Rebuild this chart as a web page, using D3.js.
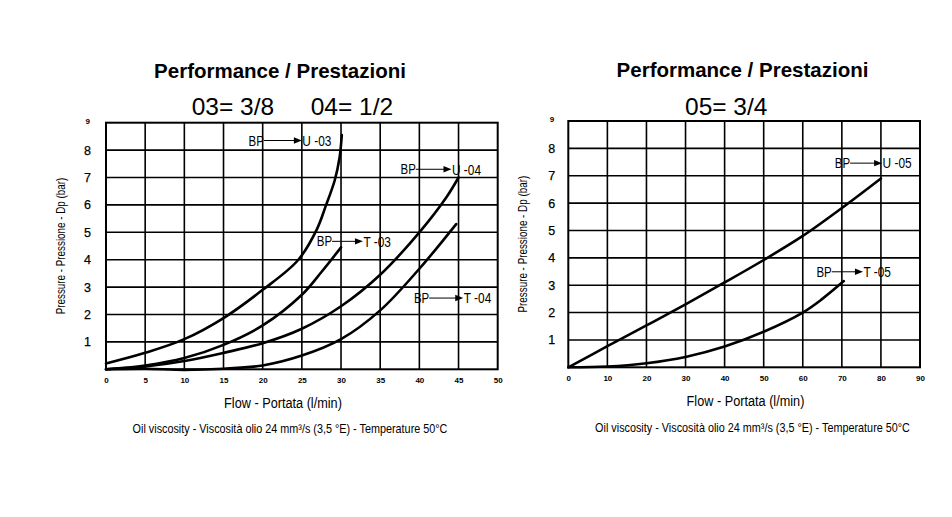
<!DOCTYPE html>
<html>
<head>
<meta charset="utf-8">
<script src="https://cdn.jsdelivr.net/npm/d3@7"></script>
<style>
  body { margin: 0; background: #fff; }
  svg { display: block; }
  text { font-family: "Liberation Sans", Arial, sans-serif; fill: #000; }
</style>
</head>
<body>
<svg id="chart" width="952" height="517"></svg>
<script>
// Tick labels
const flowTicks34 = [0, 5, 10, 15, 20, 25, 30, 35, 40, 45, 50];
const flowTicks05 = [0, 10, 20, 30, 40, 50, 60, 70, 80, 90];
const pressureTicks = [1, 2, 3, 4, 5, 6, 7, 8];
const pressureTop = [9];

// Curves: [flow l/min, pressure bar]
const curveU03 = [[0, 0.21], [5, 0.6], [10, 1.1], [15, 1.87], [20, 2.9], [24.5, 3.98],
                  [26.9, 5.1], [28.1, 6.0], [29.2, 6.9], [29.8, 7.7], [30.1, 8.55]];
const curveT03 = [[0, 0], [5, 0.14], [10, 0.41], [15, 0.89], [20, 1.6], [25, 2.72], [27.5, 3.55], [30, 4.45]];
const curveU04 = [[0, 0], [5, 0.1], [10, 0.3], [15, 0.6], [20, 0.95], [25, 1.48], [30, 2.3],
                  [35, 3.45], [40, 5.0], [43.5, 6.3], [45, 7.0]];
const curveT04 = [[0, 0], [5, 0.02], [10, -0.02], [15, 0.02], [20, 0.14], [25, 0.5], [30, 1.1],
                  [35, 2.15], [40, 3.67], [44.7, 5.3]];
const curveU05 = [[0, 0], [10, 0.77], [20, 1.53], [30, 2.3], [40, 3.1], [50, 3.92], [60, 4.8], [70, 5.82], [80, 6.9]];
const curveT05 = [[0, 0], [10, 0.03], [20, 0.15], [30, 0.38], [40, 0.76], [50, 1.3], [60, 2.0], [65, 2.5], [70.5, 3.15]];

// Labels: [end label, BP start flow, arrow tip flow, pressure]
const notes34 = [["U -03", 18.2, 25, 8.35], ["U -04", 37.6, 44.1, 7.3], ["T -03", 26.9, 32.8, 4.67], ["T -04", 39.3, 45.6, 2.6]];
const notes05 = [["U -05", 68.2, 80.3, 7.46], ["T -05", 63.5, 75.4, 3.49]];

const svg = d3.select("#chart");
const NARROW = 0.82; // Arial Narrow look

function narrow(g, x, y, str, size, anchor, rot) {
  return g.append("text")
    .attr("transform", `translate(${x},${y}) rotate(${rot || 0}) scale(${NARROW},1)`)
    .attr("text-anchor", anchor || "start")
    .style("font-size", size + "px")
    .text(str);
}

const panels = [
  { left: 106, right: 497.7, top: 122.7, bottom: 369.3, xMax: 50, xTicks: flowTicks34,
    curves: [curveU03, curveT03, curveU04, curveT04], notes: notes34,
    titleX: 280, titleY: 78, subs: [["03= 3/8", 191.7], ["04= 1/2", 310.7]],
    yLabelX: 61, yPad: 15, xLabelX: 283, xLabelY: 408, footX: 290, footY: 433 },
  { left: 568.3, right: 920, top: 121, bottom: 367.3, xMax: 90, xTicks: flowTicks05,
    curves: [curveU05, curveT05], notes: notes05,
    titleX: 742.5, titleY: 77, subs: [["05= 3/4", 685]],
    yLabelX: 523, yPad: 13, xLabelX: 745.5, xLabelY: 406, footX: 752.5, footY: 432 }
];

panels.forEach(p => {
  const x = d3.scaleLinear().domain([0, p.xMax]).range([p.left, p.right]);
  const y = d3.scaleLinear().domain([0, 9]).range([p.bottom, p.top]);
  const g = svg.append("g");

  // titles
  g.append("text")
    .attr("x", p.titleX).attr("y", p.titleY)
    .attr("text-anchor", "middle")
    .style("font-size", "20.5px").style("font-weight", "bold")
    .text("Performance / Prestazioni");

  g.selectAll(".sub").data(p.subs).enter().append("text")
    .attr("class", "sub")
    .attr("x", d => d[1]).attr("y", 115)
    .style("font-size", "24.5px")
    .text(d => d[0]);

  // grid
  g.append("g").selectAll("line").data(p.xTicks.slice(1, -1)).enter().append("line")
    .attr("x1", d => x(d)).attr("x2", d => x(d))
    .attr("y1", p.top).attr("y2", p.bottom)
    .attr("stroke", "#000").attr("stroke-width", 1.6);

  g.append("g").selectAll("line").data(pressureTicks).enter().append("line")
    .attr("x1", p.left).attr("x2", p.right)
    .attr("y1", d => y(d)).attr("y2", d => y(d))
    .attr("stroke", "#000").attr("stroke-width", 1.6);

  g.append("rect")
    .attr("x", p.left).attr("y", p.top)
    .attr("width", p.right - p.left).attr("height", p.bottom - p.top)
    .attr("fill", "none").attr("stroke", "#000").attr("stroke-width", 2);

  // axes
  const xAxis = g.append("g")
    .attr("transform", `translate(0,${p.bottom})`)
    .call(d3.axisBottom(x).tickValues(p.xTicks).tickSize(0).tickPadding(8));
  xAxis.select(".domain").remove();
  xAxis.selectAll("text").style("font-size", "8px").style("font-weight", "bold")
    .style("font-family", "'Liberation Sans', Arial, sans-serif");

  const yAxis = g.append("g")
    .attr("transform", `translate(${p.left},0)`)
    .call(d3.axisLeft(y).tickValues(pressureTicks).tickSize(0).tickPadding(p.yPad));
  yAxis.select(".domain").remove();
  yAxis.selectAll("text").style("font-size", "12.5px")
    .style("font-family", "'Liberation Sans', Arial, sans-serif")
    .attr("stroke", "#000").attr("stroke-width", 0.25);

  const yTop = g.append("g")
    .attr("transform", `translate(${p.left},0)`)
    .call(d3.axisLeft(y).tickValues(pressureTop).tickSize(0).tickPadding(p.yPad + 1));
  yTop.select(".domain").remove();
  yTop.selectAll("text").style("font-size", "8px").style("font-weight", "bold")
    .attr("dy", "0.1em")
    .style("font-family", "'Liberation Sans', Arial, sans-serif");

  // axis titles
  narrow(g, p.yLabelX, (p.top + p.bottom) / 2, "Pressure - Pressione - Dp (bar)", 12, "middle", -90)
    .attr("dy", "0.35em");
  narrow(g, p.xLabelX, p.xLabelY, "Flow - Portata (l/min)", 15.5, "middle");
  narrow(g, p.footX, p.footY, "Oil viscosity - Viscosità olio 24 mm³/s (3,5 °E) - Temperature 50°C", 13.2, "middle");

  // curves
  const line = d3.line().x(d => x(d[0])).y(d => y(d[1])).curve(d3.curveCatmullRom.alpha(0.5));
  g.selectAll(".curve").data(p.curves).enter().append("path")
    .attr("class", "curve")
    .attr("d", line)
    .attr("fill", "none").attr("stroke", "#000")
    .attr("stroke-width", 2.6).attr("stroke-linecap", "round");

  // BP -> U/T labels
  p.notes.forEach(n => {
    const ny = y(n[3]);
    const bp = narrow(g, x(n[1]), ny, "BP", 14).attr("dy", "0.36em");
    const bpEnd = x(n[1]) + bp.node().getComputedTextLength() * NARROW;
    const tip = x(n[2]);
    g.append("line")
      .attr("x1", bpEnd).attr("x2", tip - 6)
      .attr("y1", ny).attr("y2", ny)
      .attr("stroke", "#000").attr("stroke-width", 1);
    g.append("path")
      .attr("d", `M${tip},${ny}L${tip - 8},${ny - 3.2}L${tip - 8},${ny + 3.2}Z`)
      .attr("fill", "#000");
    narrow(g, tip + 0.5, ny, n[0], 14.5).attr("dy", "0.36em");
  });
});
</script>
</body>
</html>
